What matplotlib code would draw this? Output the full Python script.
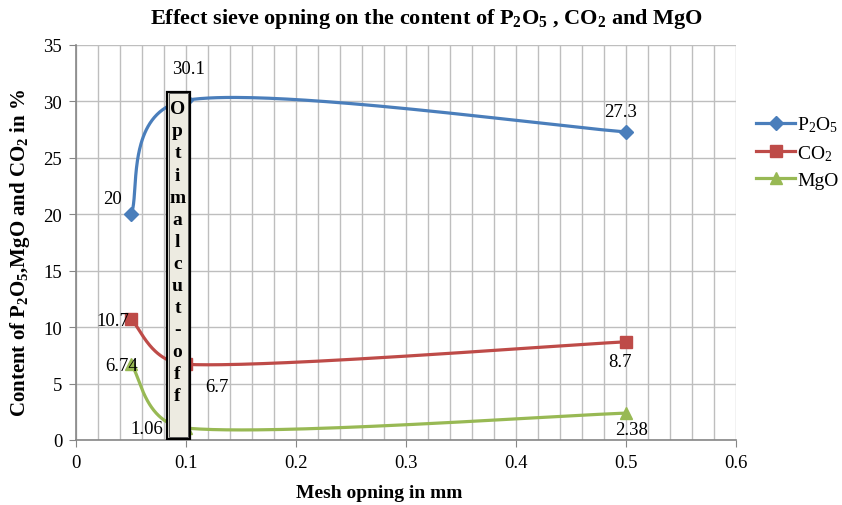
import numpy as np
import matplotlib
matplotlib.use("Agg")
import matplotlib.pyplot as plt
from matplotlib.lines import Line2D
from matplotlib.patches import Rectangle

plt.rcParams['font.family'] = ['Liberation Serif', 'DejaVu Serif']
plt.rcParams['mathtext.fontset'] = 'custom'
plt.rcParams['mathtext.rm'] = 'Liberation Serif'
plt.rcParams['mathtext.bf'] = 'Liberation Serif:bold'
plt.rcParams['mathtext.default'] = 'regular'

# data
mesh = [0.05, 0.1, 0.5]
p2o5 = [20, 30.1, 27.3]
co2 = [10.7, 6.7, 8.7]
mgo = [6.74, 1.06, 2.38]
labels = ['P$_2$O$_5$', 'CO$_2$', 'MgO']
p2o5_lbl = ['20', '30.1', '27.3']
co2_lbl = ['10.7', '6.7', '8.7']
mgo_lbl = ['6.74', '1.06', '2.38']
box_text = "Optimal cut-off"

BLUE = '#4A7EBB'
RED = '#BE4B48'
GREEN = '#98B954'

# pixel scale of the plot area (used for Excel-like smoothing)
SX = 1100.0
SY = 395.0 / 35.0


def excel_smooth(xs, ys, n=80):
    P = np.column_stack([np.asarray(xs, float) * SX, np.asarray(ys, float) * SY])
    m = len(P)
    segs = []
    for i in range(m - 1):
        p0 = P[i - 1] if i > 0 else P[i]
        p1, p2 = P[i], P[i + 1]
        p3 = P[i + 2] if i + 2 < m else P[i + 1]
        d = np.linalg.norm(p2 - p1)
        t1 = (p2 - p0) / 6
        t2 = (p3 - p1) / 6
        for t in (t1, t2):
            nt = np.linalg.norm(t)
            if nt > 0.5 * d:
                t *= 0.5 * d / nt
        c1 = p1 + t1
        c2 = p2 - t2
        s = np.linspace(0, 1, n)[:, None]
        B = (1 - s) ** 3 * p1 + 3 * (1 - s) ** 2 * s * c1 + 3 * (1 - s) * s ** 2 * c2 + s ** 3 * p2
        segs.append(B)
    B = np.vstack(segs)
    return B[:, 0] / SX, B[:, 1] / SY


fig = plt.figure(figsize=(8.42, 5.06), dpi=100)
ax = fig.add_axes([0.0903, 0.1285, 0.7838, 0.7806])

series = [
    (p2o5, p2o5_lbl, BLUE, 'D', 7.5),
    (co2, co2_lbl, RED, 's', 8),
    (mgo, mgo_lbl, GREEN, '^', 8.5),
]
for vals, _, col, mk, ms in series:
    sx, sy = excel_smooth(mesh, vals)
    ax.plot(sx, sy, color=col, lw=2.3, solid_capstyle='round', zorder=3)
    ax.plot(mesh, vals, linestyle='none', marker=mk, color=col, ms=ms, zorder=4)

# data labels (offsets in points)
offsets = [
    [(-13, 11), (2, 23), (-4, 15)],
    [(-13, -1), (22, -16), (-4, -14)],
    [(-7, -1), (-28, 0), (4, -12)],
]
for (vals, lbls, _, _, _), offs in zip(series, offsets):
    for xv, yv, t, o in zip(mesh, vals, lbls, offs):
        ax.annotate(t, (xv, yv), xytext=o, textcoords='offset points',
                    ha='center', va='center', fontsize=13.5, zorder=6)

# "Optimal cut-off" vertical box
ax.add_patch(Rectangle((0.0827, 0.07), 0.0209, 30.8, facecolor='#EDEBE1',
                       edgecolor='black', lw=1.6, zorder=5))
ax.add_patch(Rectangle((0.0843, 0.22), 0.0177, 30.5, facecolor='none',
                       edgecolor='#555555', lw=0.7, zorder=5))
letters = [c for c in box_text if c != ' ']
for i, c in enumerate(letters):
    ax.text(0.0922, 29.33 - i * 1.95, c, ha='center', va='center',
            fontsize=14, fontweight='bold', zorder=6)

ax.set_xlim(0, 0.6)
ax.set_ylim(0, 35)
ax.set_xticks(np.arange(0, 0.61, 0.1))
ax.set_xticklabels(['0', '0.1', '0.2', '0.3', '0.4', '0.5', '0.6'])
ax.set_xticks(np.arange(0, 0.61, 0.02), minor=True)
ax.set_yticks(np.arange(0, 36, 5))
ax.tick_params(axis='both', which='major', direction='out', length=5,
               color='#868686', labelsize=13.5, pad=5)
ax.tick_params(axis='x', which='minor', length=0)
ax.grid(True, axis='x', which='both', color='#BEBEBE', lw=1)
ax.grid(True, axis='y', which='major', color='#BEBEBE', lw=1)
ax.set_axisbelow(True)
for s in ['top', 'right']:
    ax.spines[s].set_visible(False)
for s in ['left', 'bottom']:
    ax.spines[s].set_color('#868686')
    ax.spines[s].set_linewidth(1.2)

fig.text(0.507, 0.962,
         r'Effect sieve opning on the content of P$_\mathbf{2}$O$_\mathbf{5}$ , CO$_\mathbf{2}$ and MgO',
         ha='center', va='center', fontsize=16, fontweight='bold')
fig.text(0.45, 0.024, 'Mesh opning in mm', ha='center', va='center',
         fontsize=14, fontweight='bold')
fig.text(0.024, 0.50, r'Content of P$_\mathbf{2}$O$_\mathbf{5}$,MgO and CO$_\mathbf{2}$ in %',
         ha='center', va='center', rotation=90, fontsize=15, fontweight='bold')

handles = [Line2D([], [], color=col, lw=2.3, marker=mk, ms=ms)
           for _, _, col, mk, ms in series]
fig.legend(handles, labels, loc='upper left', bbox_to_anchor=(0.898, 0.772),
           frameon=False, fontsize=14, handlelength=2.0, handletextpad=0.1,
           labelspacing=0.45, borderaxespad=0, borderpad=0)

fig.savefig('out.png', dpi=100, facecolor='white')
